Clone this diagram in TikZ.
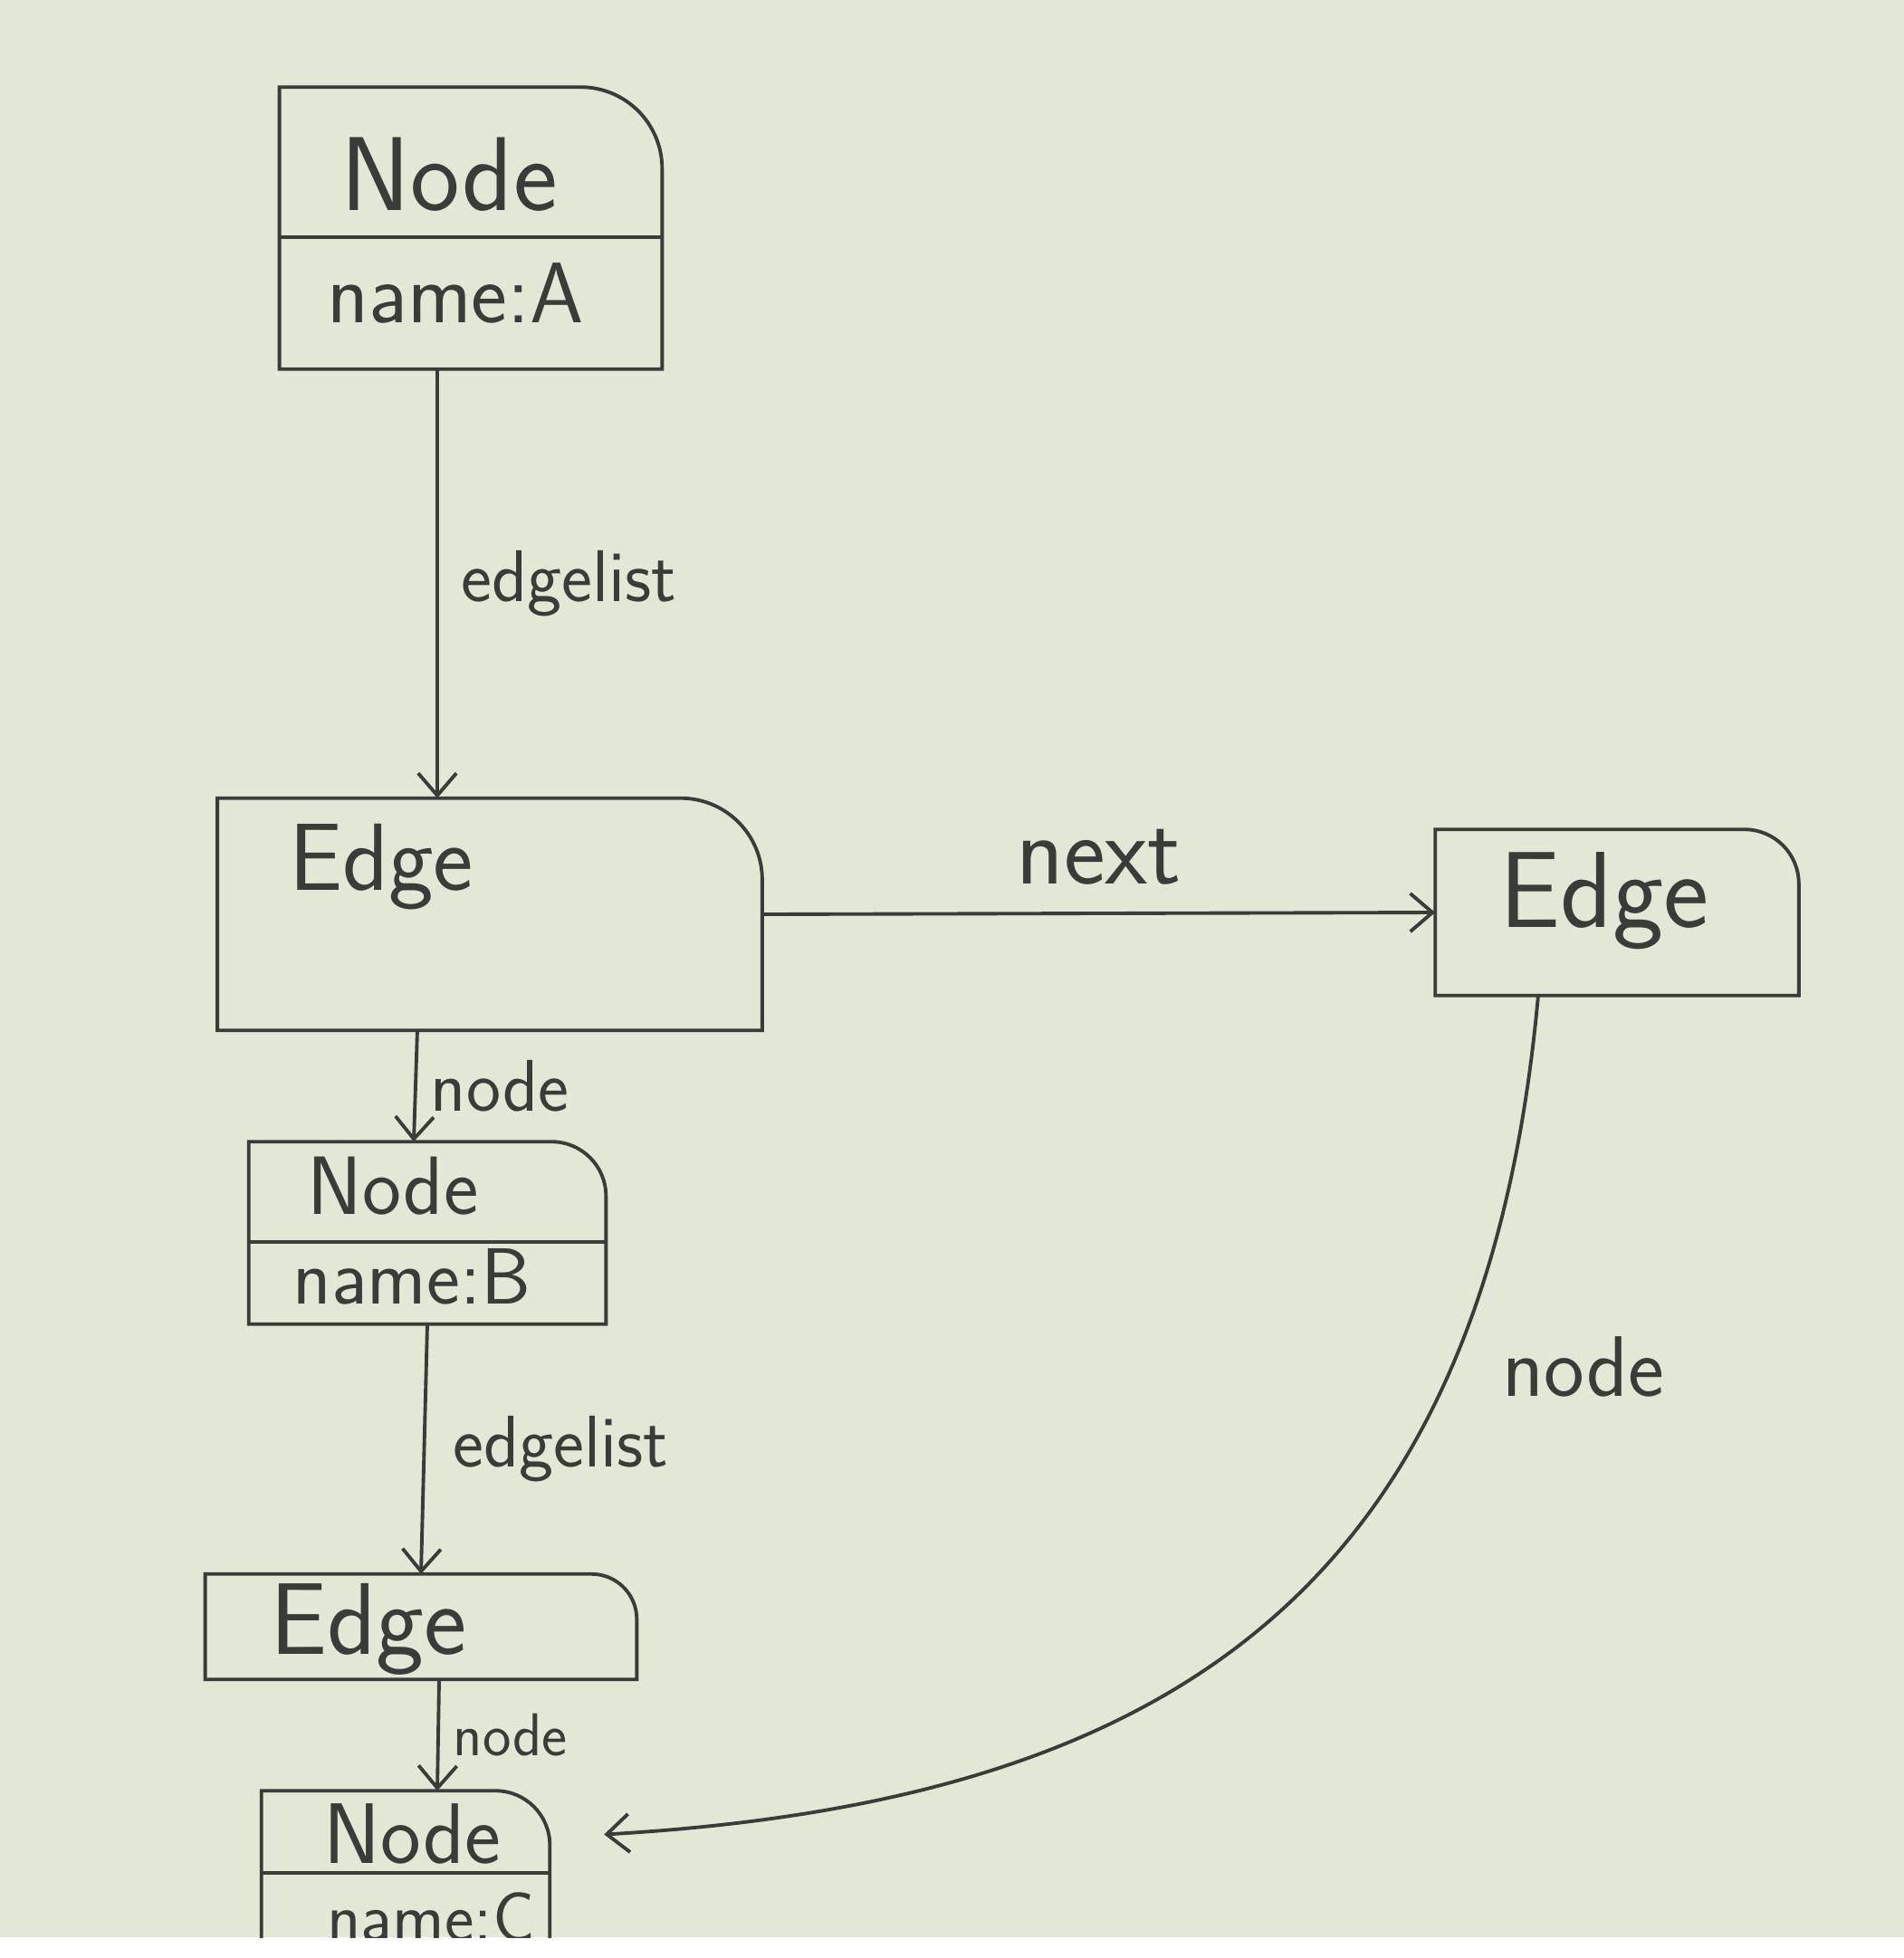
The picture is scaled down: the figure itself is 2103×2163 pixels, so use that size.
\documentclass[tikz,border=0pt]{standalone}
\usepackage{tikz}
\usetikzlibrary{arrows.meta,positioning}

\definecolor{paper}{RGB}{226,232,213}
\definecolor{pen}{RGB}{58,60,58}

\tikzset{
	box/.style={inner sep=0pt},
	boxline/.style={draw=pen, line width=1.1pt},
	link/.style={draw=pen, line width=1.1pt, -{Straight Barb[length=7pt,width=12pt]}},
	hand/.style={text=pen, font=\sffamily\fontsize{#1}{#1}\selectfont, inner sep=0pt},
}

\begin{document}
\begin{tikzpicture}[x=0.01cm, y=-0.01cm] % Koordinaten in Bildpunkten
	\fill[white] (0, 0) rectangle (2103, 2163);
	\fill[paper] (0, 0) rectangle (2103, 2140);
	\clip (0, 0) rectangle (2103, 2140);
	% Kaesten
	\node[box, minimum width=4.21cm, minimum height=3.10cm] (na) at (520, 252) {};
	\node[box, minimum width=6.00cm, minimum height=2.55cm] (e1) at (541, 1010) {};
	\node[box, minimum width=4.00cm, minimum height=1.82cm] (e2) at (1786, 1008) {};
	\node[box, minimum width=3.93cm, minimum height=2.00cm] (nb) at (472, 1362) {};
	\node[box, minimum width=4.75cm, minimum height=1.15cm] (e3) at (465, 1797) {};
	\node[box, minimum width=3.17cm, minimum height=2.22cm] (nc) at (448, 2090) {};
	\foreach \b/\r in {na/0.9, e1/0.9, e2/0.6, nb/0.6, e3/0.5, nc/0.6} {
		\draw[boxline] (\b.south east) -- (\b.south west) -- (\b.north west)
			-- ([xshift=-\r cm]\b.north east)
			arc[start angle=90, end angle=0, radius=\r cm] -- cycle;
	}
	% Trennlinien
	\draw[boxline] (na.west |- 0, 262) -- (na.east |- 0, 262);
	\draw[boxline] (nb.west |- 0, 1372) -- (nb.east |- 0, 1372);
	\draw[boxline] (nc.west |- 0, 2069) -- (nc.east |- 0, 2069);
	% Beschriftungen
	\node[hand=33pt] (naT) at (496, 193) {Node};
	\node[hand=27pt] (naV) at (503, 324) {name:A};
	\node[hand=30pt] (e1T) at (421, 958) {Edge};
	\node[hand=34pt] (e2T) at (1772, 995) {Edge};
	\node[hand=26pt] (nbT) at (434, 1310) {Node};
	\node[hand=25pt] (nbV) at (455, 1410) {name:B};
	\node[hand=32pt] (e3T) at (407, 1800) {Edge};
	\node[hand=27pt] (ncT) at (455, 2026) {Node};
	\node[hand=22pt] (ncV) at (476, 2118) {name:C};
	% Pfeile
	\draw[link] ([xshift=-0.37cm]na.south) -- ([xshift=-0.37cm]na.south |- e1.north)
		node[hand=23pt, midway, right=0.25cm] (l1) {edgelist};
	\draw[link] (e1.east) -- (e2.west)
		node[hand=31pt, midway, above=0.3cm] (l2) {next};
	\draw[link] ([xshift=-0.8cm]e1.south) -- ([xshift=-0.15cm]nb.north)
		node[hand=23pt, midway, right=0.15cm] (l3) {node};
	\draw[link] (nb.south) -- (e3.north)
		node[hand=23pt, midway, right=0.3cm] (l4) {edgelist};
	\draw[link] ([xshift=0.2cm]e3.south) -- ([xshift=0.35cm]nc.north)
		node[hand=19pt, midway, right=0.15cm] (l5) {node};
	\draw[link, shorten >=0.6cm] ([xshift=-0.87cm]e2.south)
		.. controls (1640, 1750) and (1300, 1990) .. ([yshift=0.6cm]nc.east);
	\node[hand=27pt] (l6) at (1749, 1510) {node};
\end{tikzpicture}
\end{document}
